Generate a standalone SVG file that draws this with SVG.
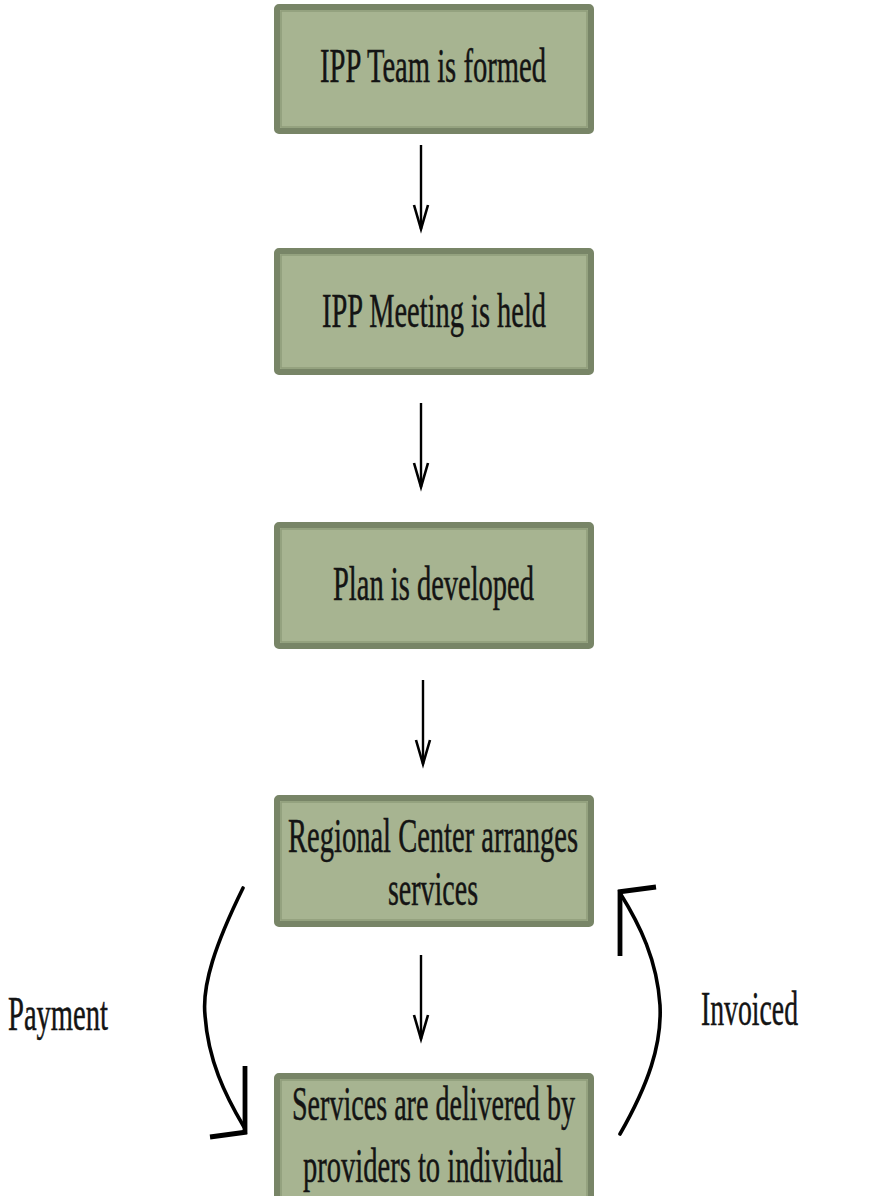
<svg xmlns="http://www.w3.org/2000/svg" width="875" height="1196" viewBox="0 0 875 1196">
<defs>
<style>
.box{fill:#a7b491;stroke:#788567;stroke-width:6}
.inner{fill:none;stroke:#8f9c7a;stroke-width:1.5}
.t{font-family:"Liberation Serif","Times New Roman",serif;font-size:48px;fill:#141414;stroke:#141414;stroke-width:0.5;text-anchor:middle}
.lbl{font-family:"Liberation Serif","Times New Roman",serif;font-size:48px;fill:#141414;stroke:#141414;stroke-width:0.5}
.ln{fill:none;stroke:#000;stroke-width:2.4}
.hd{fill:none;stroke:#000;stroke-width:2.6;stroke-linejoin:miter}
.cv{fill:none;stroke:#000;stroke-width:3.6;stroke-linecap:round}
.ch{fill:none;stroke:#000;stroke-width:4.8}
</style>
</defs>
<rect width="875" height="1196" fill="#fff"/>
<g id="connectors">
<line class="ln" x1="421" y1="145" x2="421" y2="229"/>
<polyline class="hd" points="414,205 421,229 428,205"/>
<line class="ln" x1="421" y1="403" x2="421" y2="487"/>
<polyline class="hd" points="414,463 421,487 428,463"/>
<line class="ln" x1="423" y1="680" x2="423" y2="764"/>
<polyline class="hd" points="416,740 423,764 430,740"/>
<line class="ln" x1="421" y1="955" x2="421" y2="1039"/>
<polyline class="hd" points="414,1015 421,1039 428,1015"/>
<g id="payment-arrow">
<path class="cv" d="M243,888 C215,945 202,985 205,1015 C208,1060 225,1095 244,1127"/>
<line class="ch" x1="245" y1="1066" x2="245" y2="1134"/>
<line class="ch" x1="210" y1="1137" x2="247" y2="1132"/>
</g>
<g id="invoiced-arrow">
<path class="cv" d="M620,1134 C648,1085 662,1045 660,1005 C657,960 640,925 620,893"/>
<line class="ch" x1="620" y1="956" x2="620" y2="890"/>
<line class="ch" x1="618" y1="892" x2="656" y2="887"/>
</g>
</g>
<g id="node-ipp-team">
<rect class="box" x="277" y="7" width="314" height="124" rx="2"/>
<rect class="inner" x="281" y="11" width="306" height="116"/>
<text class="t" x="433" y="82" textLength="226" lengthAdjust="spacingAndGlyphs">IPP Team is formed</text>
</g>
<g id="node-ipp-meeting">
<rect class="box" x="277" y="251" width="314" height="121" rx="2"/>
<rect class="inner" x="281" y="255" width="306" height="113"/>
<text class="t" x="434" y="327" textLength="224" lengthAdjust="spacingAndGlyphs">IPP Meeting is held</text>
</g>
<g id="node-plan">
<rect class="box" x="277" y="525" width="314" height="121" rx="2"/>
<rect class="inner" x="281" y="529" width="306" height="113"/>
<text class="t" x="433.5" y="600" textLength="201" lengthAdjust="spacingAndGlyphs">Plan is developed</text>
</g>
<g id="node-regional-center">
<rect class="box" x="277" y="798" width="314" height="126" rx="2"/>
<rect class="inner" x="281" y="802" width="306" height="118"/>
<text class="t" x="433" y="852" textLength="290" lengthAdjust="spacingAndGlyphs">Regional Center arranges</text>
<text class="t" x="433" y="905" textLength="90" lengthAdjust="spacingAndGlyphs">services</text>
</g>
<g id="node-services-delivered">
<rect class="box" x="277" y="1076" width="314" height="150" rx="2"/>
<rect class="inner" x="281" y="1080" width="306" height="142"/>
<text class="t" x="433.5" y="1120" textLength="283" lengthAdjust="spacingAndGlyphs">Services are delivered by</text>
<text class="t" x="433" y="1182" textLength="260" lengthAdjust="spacingAndGlyphs">providers to individual</text>
</g>
<g id="label-payment">
<text class="lbl" x="8" y="1030" textLength="100" lengthAdjust="spacingAndGlyphs">Payment</text>
</g>
<g id="label-invoiced">
<text class="lbl" x="701" y="1025" textLength="97" lengthAdjust="spacingAndGlyphs">Invoiced</text>
</g>
</svg>
